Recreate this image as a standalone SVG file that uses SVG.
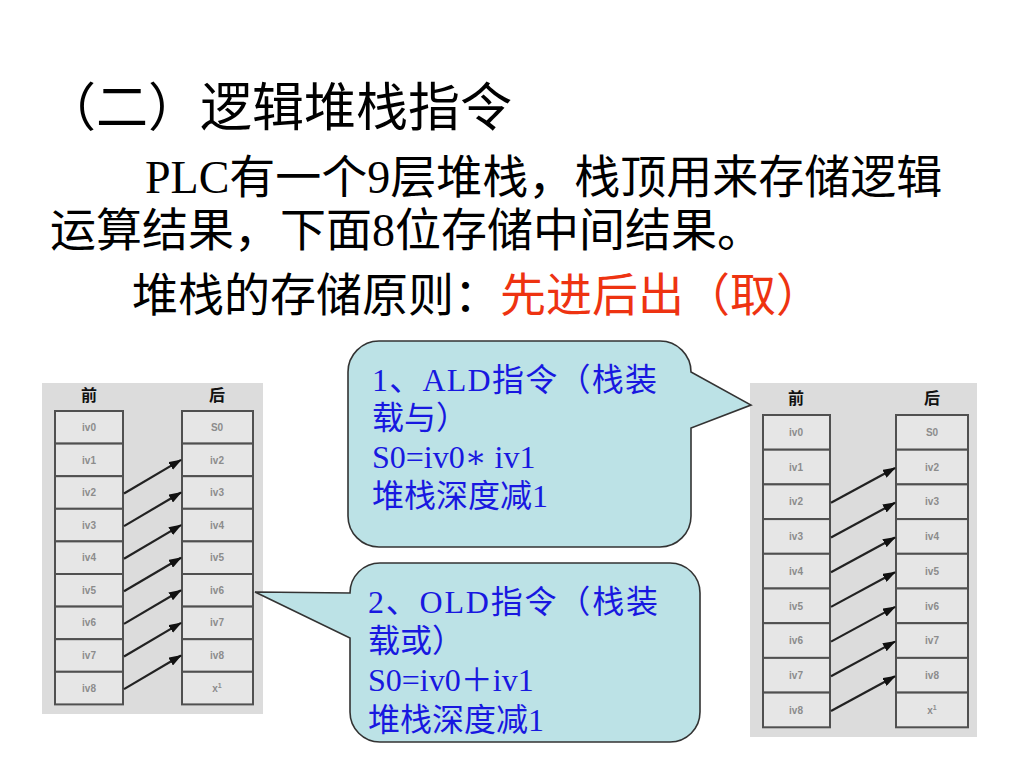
<svg xmlns="http://www.w3.org/2000/svg" width="1024" height="768" viewBox="0 0 1024 768">
<style>
.main{font-family:"Liberation Serif","Noto Sans CJK SC",serif;font-size:46px;fill:#000}
.red{fill:#EE3311}
.panel{fill:#DCDCDC}
.cell{fill:#E6E6E6;stroke:#505050;stroke-width:2}
.hdr{font-family:"Noto Sans CJK SC",sans-serif;font-size:16px;font-weight:bold;fill:#111;text-anchor:middle}
.lbl{font-family:"Liberation Sans",sans-serif;font-size:10px;font-weight:bold;fill:#8C8C8C;text-anchor:middle}
.bub{fill:#BCE2E6;stroke:#333;stroke-width:1.6}
.btxt{font-family:"Liberation Serif","Noto Sans CJK SC",serif;font-size:32px;fill:#1818E0}
.ast{font-family:"DejaVu Serif",serif;font-weight:normal}
.arr{stroke:#222;stroke-width:2.2;fill:none;marker-end:url(#ah)}
</style>
<defs>
<marker id="ah" markerUnits="userSpaceOnUse" markerWidth="13" markerHeight="9" refX="12" refY="4.5" orient="auto">
<path d="M0,0 L13,4.5 L0,9 z" fill="#111"/>
</marker>
</defs>
<rect width="1024" height="768" fill="#fff"/>

<g id="title">
<text class="main" x="44" y="126" style="font-size:52px">（二）逻辑堆栈指令</text>
</g>
<g id="intro">
<text class="main" x="145" y="193">PLC有一个9层堆栈，栈顶用来存储逻辑</text>
<text class="main" x="50" y="246">运算结果，下面8位存储中间结果。</text>
<text class="main" x="132" y="311">堆栈的存储原则：<tspan class="red">先进后出（取）</tspan></text>
</g>

<g id="stack-left">
<rect class="panel" x="42" y="383" width="221" height="331"/>
<text class="hdr" x="89" y="401">前</text>
<text class="hdr" x="217" y="401">后</text>
<g>
<rect class="cell" x="55" y="411" width="68" height="32.6"/>
<rect class="cell" x="55" y="443.6" width="68" height="32.6"/>
<rect class="cell" x="55" y="476.2" width="68" height="32.6"/>
<rect class="cell" x="55" y="508.8" width="68" height="32.6"/>
<rect class="cell" x="55" y="541.4" width="68" height="32.6"/>
<rect class="cell" x="55" y="574" width="68" height="32.6"/>
<rect class="cell" x="55" y="606.6" width="68" height="32.6"/>
<rect class="cell" x="55" y="639.2" width="68" height="32.6"/>
<rect class="cell" x="55" y="671.8" width="68" height="32.6"/>
<rect class="cell" x="182" y="411" width="71" height="32.6"/>
<rect class="cell" x="182" y="443.6" width="71" height="32.6"/>
<rect class="cell" x="182" y="476.2" width="71" height="32.6"/>
<rect class="cell" x="182" y="508.8" width="71" height="32.6"/>
<rect class="cell" x="182" y="541.4" width="71" height="32.6"/>
<rect class="cell" x="182" y="574" width="71" height="32.6"/>
<rect class="cell" x="182" y="606.6" width="71" height="32.6"/>
<rect class="cell" x="182" y="639.2" width="71" height="32.6"/>
<rect class="cell" x="182" y="671.8" width="71" height="32.6"/>
</g>
<g>
<text class="lbl" x="89" y="431">iv0</text>
<text class="lbl" x="89" y="463.5">iv1</text>
<text class="lbl" x="89" y="496">iv2</text>
<text class="lbl" x="89" y="528.6">iv3</text>
<text class="lbl" x="89" y="561.2">iv4</text>
<text class="lbl" x="89" y="593.8">iv5</text>
<text class="lbl" x="89" y="626.4">iv6</text>
<text class="lbl" x="89" y="659">iv7</text>
<text class="lbl" x="89" y="691.6">iv8</text>
<text class="lbl" x="217" y="431">S0</text>
<text class="lbl" x="217" y="463.5">iv2</text>
<text class="lbl" x="217" y="496">iv3</text>
<text class="lbl" x="217" y="528.6">iv4</text>
<text class="lbl" x="217" y="561.2">iv5</text>
<text class="lbl" x="217" y="593.8">iv6</text>
<text class="lbl" x="217" y="626.4">iv7</text>
<text class="lbl" x="217" y="659">iv8</text>
<text class="lbl" x="217" y="691.6">x<tspan dy="-4" style="font-size:7px">1</tspan></text>
</g>
</g>

<g id="stack-right">
<rect class="panel" x="750" y="383" width="227" height="354"/>
<text class="hdr" x="796" y="404">前</text>
<text class="hdr" x="932" y="404">后</text>
<g>
<rect class="cell" x="763" y="415" width="67" height="34.7"/>
<rect class="cell" x="763" y="449.7" width="67" height="34.7"/>
<rect class="cell" x="763" y="484.4" width="67" height="34.7"/>
<rect class="cell" x="763" y="519.1" width="67" height="34.7"/>
<rect class="cell" x="763" y="553.8" width="67" height="34.7"/>
<rect class="cell" x="763" y="588.5" width="67" height="34.7"/>
<rect class="cell" x="763" y="623.2" width="67" height="34.7"/>
<rect class="cell" x="763" y="657.9" width="67" height="34.7"/>
<rect class="cell" x="763" y="692.6" width="67" height="34.7"/>
<rect class="cell" x="896" y="415" width="72" height="34.7"/>
<rect class="cell" x="896" y="449.7" width="72" height="34.7"/>
<rect class="cell" x="896" y="484.4" width="72" height="34.7"/>
<rect class="cell" x="896" y="519.1" width="72" height="34.7"/>
<rect class="cell" x="896" y="553.8" width="72" height="34.7"/>
<rect class="cell" x="896" y="588.5" width="72" height="34.7"/>
<rect class="cell" x="896" y="623.2" width="72" height="34.7"/>
<rect class="cell" x="896" y="657.9" width="72" height="34.7"/>
<rect class="cell" x="896" y="692.6" width="72" height="34.7"/>
</g>
<g>
<text class="lbl" x="796" y="436">iv0</text>
<text class="lbl" x="796" y="470.7">iv1</text>
<text class="lbl" x="796" y="505.4">iv2</text>
<text class="lbl" x="796" y="540.1">iv3</text>
<text class="lbl" x="796" y="574.8">iv4</text>
<text class="lbl" x="796" y="609.5">iv5</text>
<text class="lbl" x="796" y="644.2">iv6</text>
<text class="lbl" x="796" y="678.9">iv7</text>
<text class="lbl" x="796" y="713.6">iv8</text>
<text class="lbl" x="932" y="436">S0</text>
<text class="lbl" x="932" y="470.7">iv2</text>
<text class="lbl" x="932" y="505.4">iv3</text>
<text class="lbl" x="932" y="540.1">iv4</text>
<text class="lbl" x="932" y="574.8">iv5</text>
<text class="lbl" x="932" y="609.5">iv6</text>
<text class="lbl" x="932" y="644.2">iv7</text>
<text class="lbl" x="932" y="678.9">iv8</text>
<text class="lbl" x="932" y="713.6">x<tspan dy="-4" style="font-size:7px">1</tspan></text>
</g>
</g>

<g id="connectors">
<line class="arr" x1="124" y1="493.5" x2="181" y2="459.9"/>
<line class="arr" x1="124" y1="526.1" x2="181" y2="492.5"/>
<line class="arr" x1="124" y1="558.7" x2="181" y2="525.1"/>
<line class="arr" x1="124" y1="591.3" x2="181" y2="557.7"/>
<line class="arr" x1="124" y1="623.9" x2="181" y2="590.3"/>
<line class="arr" x1="124" y1="656.5" x2="181" y2="622.9"/>
<line class="arr" x1="124" y1="689.1" x2="181" y2="655.5"/>
<line class="arr" x1="831" y1="502.8" x2="895" y2="468"/>
<line class="arr" x1="831" y1="537.5" x2="895" y2="502.8"/>
<line class="arr" x1="831" y1="572.2" x2="895" y2="537.5"/>
<line class="arr" x1="831" y1="606.9" x2="895" y2="572.2"/>
<line class="arr" x1="831" y1="641.6" x2="895" y2="606.9"/>
<line class="arr" x1="831" y1="676.3" x2="895" y2="641.6"/>
<line class="arr" x1="831" y1="711" x2="895" y2="676.3"/>
</g>

<g id="bubble-ald">
<path class="bub" d="M379,341 H660 A31,31 0 0 1 691,372 L751,405 L691,428 V516 A31,31 0 0 1 660,547 H379 A31,31 0 0 1 348,516 V372 A31,31 0 0 1 379,341 Z"/>
<text class="btxt" x="372" y="391" textLength="285" lengthAdjust="spacing">1、ALD指令（栈装</text>
<text class="btxt" x="372" y="429">载与）</text>
<text class="btxt" x="372" y="468">S0=iv0<tspan class="ast">∗</tspan> iv1</text>
<text class="btxt" x="372" y="507">堆栈深度减1</text>
</g>

<g id="bubble-old">
<path class="bub" d="M380,563 H670 A30,30 0 0 1 700,593 V712 A30,30 0 0 1 670,742 H380 A30,30 0 0 1 350,712 V638 L255,592 L350,593 A30,30 0 0 1 380,563 Z"/>
<text class="btxt" x="368" y="613" textLength="290" lengthAdjust="spacing">2、OLD指令（栈装</text>
<text class="btxt" x="368" y="652">载或）</text>
<text class="btxt" x="368" y="691">S0=iv0＋iv1</text>
<text class="btxt" x="368" y="731">堆栈深度减1</text>
</g>
</svg>
